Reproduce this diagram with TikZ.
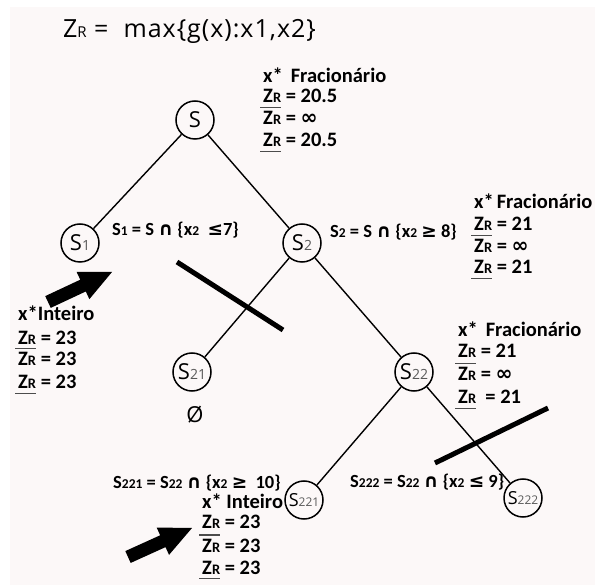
\documentclass[tikz,border=0pt]{standalone}
\usepackage{fontspec}
\setmainfont{Carlito}
\newfontfamily\osans{Open Sans}
\newfontfamily\osansw[LetterSpace=4]{Open Sans}
\newfontfamily\dv{DejaVu Sans}
\usetikzlibrary{calc}
\definecolor{bg}{RGB}{252,248,248}
\newcommand{\ZR}{Z{\fontsize{14.5}{14.5}\selectfont R}}
\newcommand{\sm}[1]{{\fontsize{13.5}{13.5}\selectfont #1}}
\newcommand{\nsub}[1]{{\fontsize{14}{14}\selectfont\color{black!65}#1}}
\newcommand{\msub}[1]{{\fontsize{12}{12}\selectfont\color{black!65}#1}}
\newcommand{\ovl}[1]{\setbox0=\hbox{#1}\rlap{\kern-3pt\raisebox{16.5pt}{\textcolor{black!70}{\rule{\dimexpr\wd0+3pt\relax}{1.1pt}}}}\box0}
\newcommand{\unl}[1]{\setbox0=\hbox{#1}\rlap{\kern-3pt\raisebox{-5pt}{\textcolor{black!70}{\rule{\dimexpr\wd0+3pt\relax}{1.1pt}}}}\box0}
\newcommand{\sy}[1]{{\dv\bfseries #1}}
\newcommand{\cp}{{\dv ∩}}
\begin{document}
\begin{tikzpicture}[x=1pt,y=-1pt,
 st/.style={circle,draw,line width=1.5pt,minimum size=38pt,inner sep=0pt,font=\osans\fontsize{22}{22}\selectfont},
 stsmall/.style={st,font=\osans\fontsize{18}{18}\selectfont},
 edge/.style={line width=1.4pt},
 cut/.style={line width=5pt},
 lbl/.style={anchor=base west,inner sep=0pt,font=\bfseries\fontsize{20.5}{20.5}\selectfont},
 frm/.style={anchor=base west,inner sep=0pt,font=\bfseries\fontsize{18.5}{18.5}\selectfont}]
\useasboundingbox (0,0) rectangle (595,585);
\fill[white] (0,0) rectangle (595,585);
\fill[bg] (10,7) rectangle (595,585);

% title
\node[anchor=base west,inner sep=0pt,font=\osansw\fontsize{25}{25}\selectfont] (title) at (63,38) {Z{\fontsize{15}{15}\selectfont R} = \ max\{g(x):x1,x2\}};

% tree nodes
\node[st] (S) at (195,120) {S};
\node[st] (S1) at (80,243) {S\nsub{1}};
\node[st] (S2) at (302,243) {S\nsub{2}};
\node[st] (S21) at (192,372) {S\nsub{21}};
\node[st] (S22) at (414,372) {S\nsub{22}};
\node[stsmall] (S221) at (304,500) {S\msub{221}};
\node[stsmall] (S222) at (523,498) {S\msub{222}};

\draw[edge] (S) -- (S1);
\draw[edge] (S) -- (S2);
\draw[edge] (S2) -- (S21);
\draw[edge] (S2) -- (S22);
\draw[edge] (S22) -- (S221);
\draw[edge] (S22) -- (S222);

\node[font=\osans\fontsize{22}{22}\selectfont,inner sep=0pt] (empty) at (195,415) {Ø};

% cuts
\coordinate (c1a) at (177,262);
\coordinate (c1b) at (283,330);
\draw[cut] (c1a) -- (c1b);
\coordinate (c2a) at (435,463);
\coordinate (c2b) at (548,408);
\draw[cut] (c2a) -- (c2b);

% formulas
\node[frm] (f1) at (112,236) {S\sm{1} = S \cp{} \{x\sm{2}\ \ \sy{≤}7\}};
\node[frm] (f2) at (330,238) {S\sm{2} = S \cp{} \{x\sm{2} \sy{≥} 8\}};
\node[frm] (f221) at (113,489) {S\sm{221} = S\sm{22} \cp{} \{x\sm{2} \sy{≥}\ \ 10\}};
\node[frm] (f222) at (350,488) {S\sm{222} = S\sm{22} \cp{} \{x\sm{2} \sy{≤} 9\}};

% info S
\node[lbl] (iS0) at (263,83) {x*\hspace{8pt}Fracionário};
\node[lbl] (iS1) at (263,103) {\ZR{} = 20.5};
\node[lbl] (iS2) at (263,125) {\ovl{\ZR}{} = \sy{∞}};
\node[lbl] (iS3) at (263,147) {\unl{\ZR}{} = 20.5};

% info S2
\node[lbl] (iT0) at (474,209) {x*\hspace{3pt}Fracionário};
\node[lbl] (iT1) at (474,231) {\ZR{} = 21};
\node[lbl] (iT2) at (474,253) {\ovl{\ZR}{} = \sy{∞}};
\node[lbl] (iT3) at (474,274) {\unl{\ZR}{} = 21};

% info S22
\node[lbl] (iU0) at (458,337) {x*\hspace{8pt}Fracionário};
\node[lbl] (iU1) at (458,358) {\ZR{} = 21};
\node[lbl] (iU2) at (458,381) {\ovl{\ZR}{} = \sy{∞}};
\node[lbl] (iU3) at (458,404) {\unl{\ZR}{}\ \ = 21};

% info S1
\node[lbl] (iV0) at (18,321) {x*Inteiro};
\node[lbl] (iV1) at (18,345) {\ZR{} = 23};
\node[lbl] (iV2) at (18,366) {\ovl{\ZR}{} = 23};
\node[lbl] (iV3) at (18,389) {\unl{\ZR}{} = 23};

% info S221
\node[lbl] (iW0) at (202,508) {x* Inteiro};
\node[lbl] (iW1) at (202,528) {\ZR{} = 23};
\node[lbl] (iW2) at (202,552) {\ovl{\ZR}{} = 23};
\node[lbl] (iW3) at (202,574) {\unl{\ZR}{} = 23};

% big arrows
\coordinate (a1t) at (48,302);
\coordinate (a1p) at (112,272);
\coordinate (a1b) at ($(a1p)!32pt!(a1t)$);
\fill ($(a1t)!6.5pt!90:(a1p)$) -- ($(a1b)!6.5pt!90:(a1p)$) -- ($(a1b)!15pt!90:(a1p)$) -- (a1p)
  -- ($(a1b)!15pt!-90:(a1p)$) -- ($(a1b)!6.5pt!-90:(a1p)$) -- ($(a1t)!6.5pt!-90:(a1p)$) -- cycle;
\coordinate (a2t) at (128,557);
\coordinate (a2p) at (192,528);
\coordinate (a2b) at ($(a2p)!32pt!(a2t)$);
\fill ($(a2t)!6.5pt!90:(a2p)$) -- ($(a2b)!6.5pt!90:(a2p)$) -- ($(a2b)!15pt!90:(a2p)$) -- (a2p)
  -- ($(a2b)!15pt!-90:(a2p)$) -- ($(a2b)!6.5pt!-90:(a2p)$) -- ($(a2t)!6.5pt!-90:(a2p)$) -- cycle;
\end{tikzpicture}
\end{document}
